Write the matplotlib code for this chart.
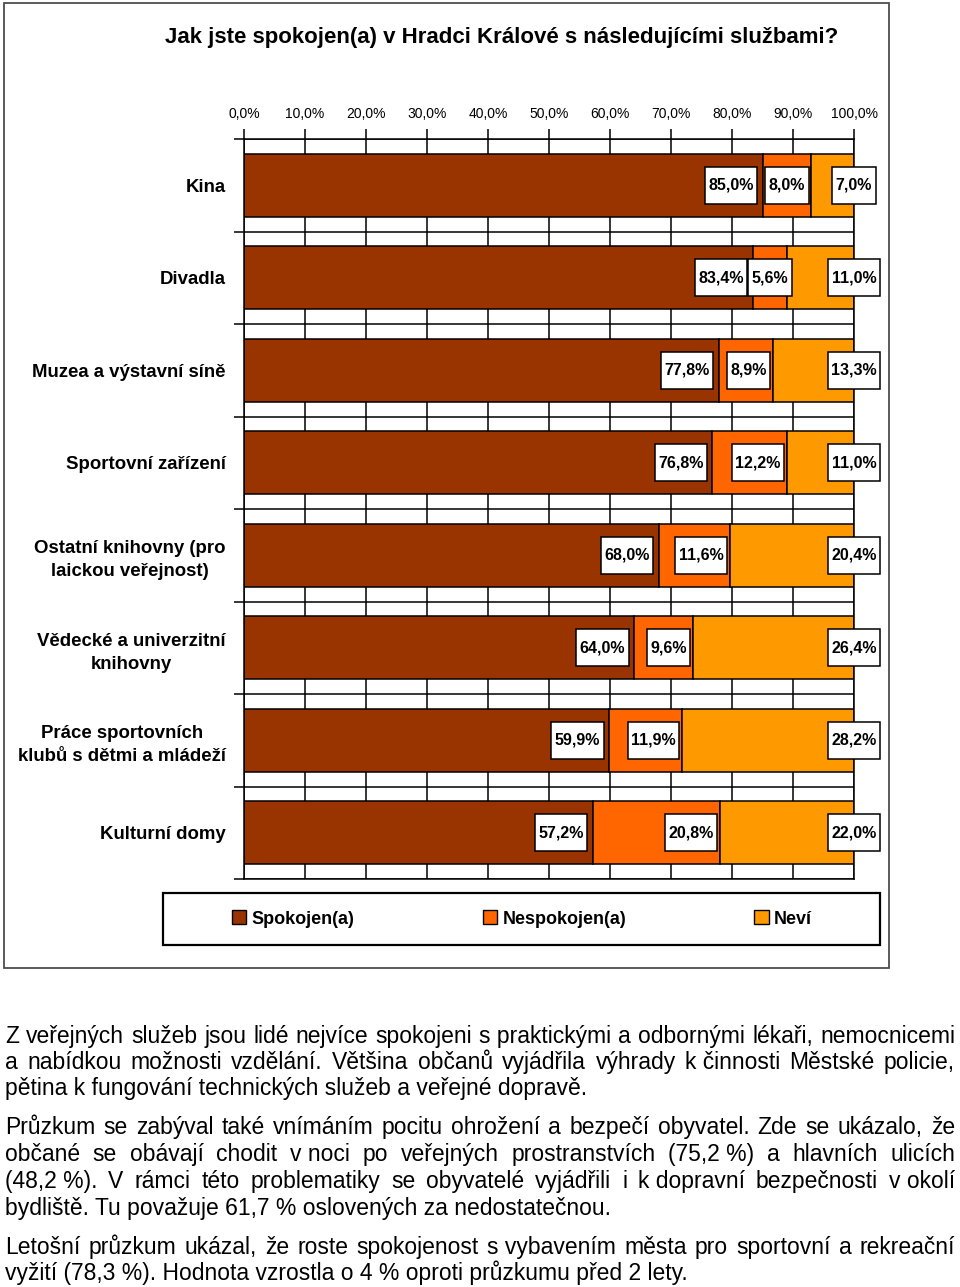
import numpy as np
import matplotlib
matplotlib.use("Agg")
import matplotlib.pyplot as plt
from matplotlib.patches import Patch, Rectangle
from matplotlib.path import Path

plt.rcParams['font.family'] = ['Liberation Sans Narrow', 'Liberation Sans', 'DejaVu Sans']

#  Data 
categories = [
    "Kina",
    "Divadla",
    "Muzea a výstavní síně",
    "Sportovní zařízení",
    "Ostatní knihovny (pro\nlaickou veřejnost)",
    "Vědecké a univerzitní\nknihovny",
    "Práce sportovních\nklubů s dětmi a mládeží",
    "Kulturní domy",
]
spokojen = [85.0, 83.4, 77.8, 76.8, 68.0, 64.0, 59.9, 57.2]
nespokojen = [8.0, 5.6, 8.9, 12.2, 11.6, 9.6, 11.9, 20.8]
nevi = [7.0, 11.0, 13.3, 11.0, 20.4, 26.4, 28.2, 22.0]
series_names = ["Spokojen(a)", "Nespokojen(a)", "Neví"]
colors = ["#993300", "#FF6600", "#FF9900"]
x_ticks = list(range(0, 101, 10))
title = "Jak jste spokojen(a) v Hradci Králové s následujícími službami?"

paragraphs = [
    ["Z veřejných služeb jsou lidé nejvíce spokojeni s praktickými a odbornými lékaři, nemocnicemi",
     "a nabídkou možnosti vzdělání. Většina občanů vyjádřila výhrady k činnosti Městské policie,",
     "pětina k fungování technických služeb a veřejné dopravě."],
    ["Průzkum se zabýval také vnímáním pocitu ohrožení a bezpečí obyvatel. Zde se ukázalo, že",
     "občané se obávají chodit v noci po veřejných prostranstvích (75,2 %) a hlavních ulicích",
     "(48,2 %). V rámci této problematiky se obyvatelé vyjádřili i k dopravní bezpečnosti v okolí",
     "bydliště. Tu považuje 61,7 % oslovených za nedostatečnou."],
    ["Letošní průzkum ukázal, že roste spokojenost s vybavením města pro sportovní a rekreační",
     "vyžití (78,3 %). Hodnota vzrostla o 4 % oproti průzkumu před 2 lety."],
]

W, H = 960, 1287


def fx(px):
    return px / W


def fy(py):
    return 1 - py / H


def pct(v):
    return f"{v:.1f}".replace(".", ",") + "%"


def tall_box(x0, y0, width, height, mutation_size):
    # white label box, more padding vertically than horizontally
    px = 0.22 * mutation_size
    py = 0.68 * mutation_size
    return Path([(x0 - px, y0 - py), (x0 + width + px, y0 - py),
                 (x0 + width + px, y0 + height + py), (x0 - px, y0 + height + py),
                 (x0 - px, y0 - py)], closed=True)


fig = plt.figure(figsize=(W / 100, H / 100), dpi=100)

# outer chart frame
fig.patches.append(Rectangle((fx(4), fy(968)), fx(885), 965 / H, transform=fig.transFigure,
                             fill=False, edgecolor="#4d4d4d", lw=1.3))

fig.text(fx(502), fy(37), title, ha="center", va="center", fontsize=16, fontweight="bold")

ax = fig.add_axes([fx(244), fy(879), fx(610), 740 / H])
y = np.arange(len(categories))
left = np.zeros(len(categories))
for vals, name, col in zip([spokojen, nespokojen, nevi], series_names, colors):
    vals = np.array(vals)
    ax.barh(y, vals, left=left, height=0.68, color=col, edgecolor="black", lw=1.1,
            label=name, zorder=2)
    left = left + vals

# value labels
ends1 = np.array(spokojen)
ends2 = ends1 + np.array(nespokojen)
lab_kw = dict(va="center", fontsize=11.5, fontweight="bold", zorder=5,
              bbox=dict(boxstyle=tall_box, facecolor="white", edgecolor="black", lw=1.1))
for i in range(len(categories)):
    ax.annotate(pct(spokojen[i]), (ends1[i], y[i]), xytext=(-6.5, 0),
                textcoords="offset points", ha="right", **lab_kw)
    if nespokojen[i] < 7:
        ax.annotate(pct(nespokojen[i]), (ends1[i] + nespokojen[i] / 2, y[i]), ha="center", **lab_kw)
    else:
        ax.annotate(pct(nespokojen[i]), (ends2[i], y[i]), xytext=(-4.5, 0),
                    textcoords="offset points", ha="right", **lab_kw)
    ax.annotate(pct(nevi[i]), (100, y[i]), ha="center", **lab_kw)

ax.set_xlim(0, 100)
ax.set_ylim(len(categories) - 0.5, -0.5)
ax.xaxis.tick_top()
ax.set_xticks(x_ticks)
ax.set_xticklabels([pct(v) for v in x_ticks], fontsize=10)
ax.tick_params(axis="x", direction="out", length=7, width=1.1, pad=6, colors="black")
ax.set_yticks(np.arange(len(categories) + 1) - 0.5)
ax.set_yticklabels([])
ax.set_yticks(y, minor=True)
ax.set_yticklabels(categories, minor=True, fontsize=13.4, fontweight="bold",
                   multialignment="center", linespacing=1.45)
ax.tick_params(axis="y", which="major", direction="out", length=7, width=1.1)
ax.tick_params(axis="y", which="minor", length=0, pad=13)
ax.grid(True, which="major", color="black", lw=1.1)
ax.set_axisbelow(True)
for sp in ax.spines.values():
    sp.set_linewidth(1.1)

# legend
handles = [Patch(facecolor=c, edgecolor="black", lw=1.0) for c in colors]
fig.legend(handles, series_names, loc="center", ncol=3, mode="expand",
           bbox_to_anchor=(fx(232), fy(945), fx(580), 52 / H), frameon=False,
           borderaxespad=0, borderpad=0, handlelength=0.8, handleheight=0.8,
           handletextpad=0.3, prop=dict(weight="bold", size=13))
fig.patches.append(Rectangle((fx(163), fy(945)), fx(717), 52 / H, transform=fig.transFigure,
                             fill=False, edgecolor="black", lw=1.6))

# justified paragraph text below the chart
renderer = fig.canvas.get_renderer()
bind = {"v", "k", "s", "z", "o", "u"}
txt_kw = dict(fontsize=16.5, family=["Liberation Sans", "DejaVu Sans"], va="baseline", ha="left")
baselines = [[1043, 1069, 1095], [1134, 1161, 1188, 1215], [1254, 1280]]
x_left, x_right = 5, 955
for para, bls in zip(paragraphs, baselines):
    for k, (line, bl) in enumerate(zip(para, bls)):
        last = k == len(para) - 1
        words = line.split(" ")
        tokens = []
        for w in words:
            if tokens and (tokens[-1] in bind or w.startswith("%")):
                tokens[-1] = tokens[-1] + " " + w
            else:
                tokens.append(w)
        if last:
            fig.text(fx(x_left), fy(bl), line, **txt_kw)
            continue
        objs = [fig.text(0, fy(bl), t, **txt_kw) for t in tokens]
        widths = [o.get_window_extent(renderer).width for o in objs]
        gap = (x_right - x_left - sum(widths)) / (len(tokens) - 1)
        xpos = x_left
        for o, wd in zip(objs, widths):
            o.set_x(fx(xpos))
            xpos += wd + gap

fig.savefig("out.png", dpi=100)
